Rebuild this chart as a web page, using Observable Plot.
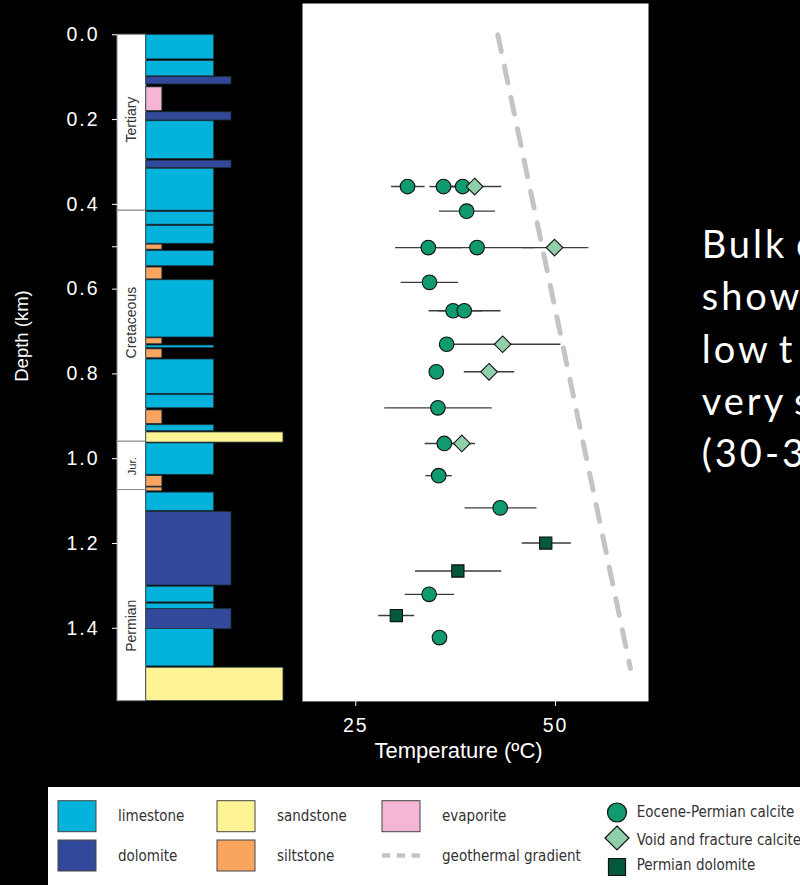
<!DOCTYPE html>
<html>
<head>
<meta charset="utf-8">
<script src="https://cdn.jsdelivr.net/npm/d3@7"></script>
<script src="https://cdn.jsdelivr.net/npm/@observablehq/plot@0.6"></script>
<style>
html, body { margin: 0; padding: 0; background: #000; overflow: hidden; }
#root { position: relative; width: 800px; height: 885px; overflow: hidden; background: #000; }
#left { position: absolute; left: 0; top: 0; }
#right { position: absolute; left: 300px; top: 0; }
#note { position: absolute; left: 640px; top: 180px; }
#legend { position: absolute; left: 48px; top: 787px; }
svg { overflow: visible; }
[aria-label$="tick label"] text { letter-spacing: 2px; }
</style>
</head>
<body>
<div id="root">
  <div id="left"></div>
  <div id="right"></div>
  <div id="note"></div>
  <div id="legend"></div>
</div>
<script>
// ---------------- DATA ----------------
const rockTypes  = ["limestone", "dolomite", "sandstone", "siltstone", "evaporite"];
const rockColors = ["#04b3dc", "#32489b", "#fff495", "#f9a45f", "#f5b6d5"];

// lithology layers (depth in km)
const layerTop = [0.000, 0.062, 0.100, 0.124, 0.183, 0.204, 0.297, 0.316, 0.418, 0.451,
                  0.495, 0.510, 0.549, 0.579, 0.716, 0.733, 0.742, 0.766, 0.850, 0.886,
                  0.921, 0.938, 0.964, 1.041, 1.068, 1.080, 1.126, 1.302, 1.342, 1.355,
                  1.402, 1.493];
const layerBottom = [0.058, 0.098, 0.117, 0.180, 0.202, 0.293, 0.314, 0.415, 0.448, 0.493,
                     0.507, 0.546, 0.577, 0.714, 0.730, 0.739, 0.763, 0.847, 0.881, 0.918,
                     0.935, 0.962, 1.038, 1.066, 1.077, 1.123, 1.299, 1.339, 1.355, 1.402,
                     1.490, 1.572];
const layerRock = ["limestone", "limestone", "dolomite", "evaporite", "dolomite", "limestone", "dolomite", "limestone", "limestone", "limestone",
                   "siltstone", "limestone", "siltstone", "limestone", "siltstone", "limestone", "siltstone", "limestone", "limestone", "siltstone",
                   "limestone", "sandstone", "limestone", "siltstone", "siltstone", "limestone", "dolomite", "limestone", "limestone", "dolomite",
                   "limestone", "sandstone"];

// geological periods
const eraNames = ["Tertiary", "Cretaceous", "Jur.", "Permian"];
const eraTop = [0.000, 0.415, 0.960, 1.074];
const eraBottom = [0.415, 0.960, 1.074, 1.572];
const eraLabelDepth = [0.200, 0.679, 1.018, 1.394];

// clumped-isotope temperatures
const sampleTypes = ["Eocene-Permian calcite", "Void and fracture calcite", "Permian dolomite"];
const sampleDepth = [0.358, 0.358, 0.358, 0.358, 0.416, 0.502, 0.502, 0.502, 0.584, 0.651,
                     0.651, 0.730, 0.730, 0.795, 0.795, 0.880, 0.964, 0.964, 1.040, 1.116,
                     1.199, 1.265, 1.320, 1.370, 1.422];
const sampleTemp  = [31.6, 36.1, 38.5, 40.0, 39.0, 34.2, 40.3, 50.0, 34.35, 37.3,
                     38.7, 36.5, 43.5, 35.2, 41.8, 35.4, 36.2, 38.4, 35.5, 43.2,
                     48.9, 37.9, 34.3, 30.2, 35.6];
const sampleLow   = [29.6, 34.4, 36.5, 37.0, 35.6, 30.1, 35.3, 46.0, 30.8, 34.3,
                     35.5, null, 36.5, null, 38.7, 28.75, 33.8, 35.5, 33.9, 38.8,
                     45.95, 32.6, 31.3, 28.0, null];
const sampleHigh  = [33.8, 37.8, 40.5, 43.4, 42.6, 38.4, 47.6, 54.3, 38.0, 41.0,
                     43.3, null, 50.8, null, 45.0, 42.2, 38.6, 40.1, 37.2, 47.8,
                     52.1, 43.4, 37.5, 32.5, null];
const sampleKind  = [0, 0, 0, 1, 0, 0, 0, 1, 0, 0,
                     0, 0, 1, 0, 1, 0, 0, 1, 0, 0,
                     2, 2, 0, 2, 0];

// geothermal gradient
const gradientDepth = [0.0, 1.495];
const gradientTemp  = [42.9, 59.5];

const depthTicks = [0.0, 0.2, 0.4, 0.5, 0.6, 0.8, 1.0, 1.2, 1.4];
const depthTickLabels = ["0.0", "0.2", "0.4", "", "0.6", "0.8", "1.0", "1.2", "1.4"];
const tempTicks = [25, 50];

const noteLines = ["Bulk c", "show", "low t", "very s", "(30-3"];

// ---------------- STYLE ----------------
const rockWidth = {limestone: 2.36, dolomite: 2.96, sandstone: 4.77, siltstone: 0.56, evaporite: 0.56};
const sampleFill = ["#0f9a70", "#8fcfa9", "#03583d"];
const sampleSymbol = ["circle", "diamond2", "square"];
const sampleR = [7.3, 7.5, 6.9];
const pxPerKm = 423.9, depth0Y = 34.3;
const axisFont = "'Liberation Sans', Arial, Helvetica, sans-serif";

// ---------------- TABLES ----------------
const layers = layerTop.map((t, i) => ({top: t, bottom: layerBottom[i], rock: layerRock[i]}));
const eras = eraNames.map((n, i) => ({name: n, top: eraTop[i], bottom: eraBottom[i], label: eraLabelDepth[i]}));
const samples = sampleDepth.map((d, i) => ({depth: d, temp: sampleTemp[i], low: sampleLow[i], high: sampleHigh[i], kind: sampleKind[i]}));
const gradient = gradientDepth.map((d, i) => ({depth: d, temp: gradientTemp[i]}));

// ---------------- LEFT: stratigraphic column ----------------
const leftH = 710, leftBottomY = depth0Y + pxPerKm * d3.max(layerBottom);
const left = Plot.plot({
  width: 300, height: leftH,
  marginLeft: 117, marginRight: 17, marginTop: depth0Y, marginBottom: leftH - leftBottomY,
  style: {background: "transparent", color: "#fff", fontFamily: axisFont},
  x: {domain: [-1, rockWidth.sandstone], axis: null},
  y: {domain: [0, d3.max(layerBottom)], reverse: true, axis: null},
  color: {domain: rockTypes, range: rockColors},
  marks: [
    Plot.rect(eras, {x1: -1, x2: 0, y1: "top", y2: "bottom", fill: "#fff", stroke: "#8a8a8a", strokeWidth: 1}),
    Plot.text(eras, {x: -0.5, y: "label", text: "name", rotate: -90, fill: "#333",
      fontSize: d => d.name === "Jur." ? 11.5 : 14}),
    Plot.rect(layers, {x1: 0, x2: d => rockWidth[d.rock], y1: "top", y2: "bottom", fill: "rock", stroke: "#1f3540", strokeWidth: 0.8}),
    Plot.axisY({ticks: depthTicks, tickFormat: d => depthTickLabels[depthTicks.indexOf(d)], tickSize: 5, tickPadding: 13,
      fontSize: 19.5, label: null}),
    Plot.text(["Depth (km)"], {frameAnchor: "left", textAnchor: "middle", rotate: -90, dx: -95, dy: -32, fontSize: 18.5, fill: "#fff"})
  ]
});
document.getElementById("left").append(left);

// ---------------- RIGHT: temperatures ----------------
const rightH = 780, panelTop = 3, panelBottom = 701;
const yTop = (panelTop - depth0Y) / pxPerKm, yBottom = (panelBottom - depth0Y) / pxPerKm;
const right = Plot.plot({
  width: 360, height: rightH,
  marginLeft: 2, marginRight: 12, marginTop: panelTop, marginBottom: rightH - panelBottom,
  style: {background: "transparent", color: "#fff", fontFamily: axisFont},
  x: {domain: [18.454, 61.76], axis: null},
  y: {domain: [yTop, yBottom], reverse: true, axis: null},
  marks: [
    Plot.frame({fill: "#fff", stroke: "none"}),
    Plot.ruleY([yBottom], {stroke: "#6a6a6a", strokeWidth: 1.2}),
    Plot.line(gradient, {x: "temp", y: "depth", stroke: "#c4c4c4", strokeWidth: 5, strokeDasharray: "17 15"}),
    Plot.ruleY(samples.filter(d => d.low != null), {y: "depth", x1: "low", x2: "high", stroke: "#3c3c3c", strokeWidth: 1.4}),
    ...[0, 1, 2].map(k => Plot.dot(samples.filter(d => d.kind === k), {
      x: "temp", y: "depth", symbol: sampleSymbol[k], r: sampleR[k], fill: sampleFill[k], stroke: "#111", strokeWidth: 1.1
    })),
    Plot.axisX({ticks: tempTicks, tickSize: 5, tickPadding: 11.7, fontSize: 19.5, dx: 1, label: null}),
    Plot.text(["Temperature (ºC)"], {frameAnchor: "bottom", dx: -17, dy: 41, lineAnchor: "top", fontSize: 22, fill: "#fff"})
  ]
});
document.getElementById("right").append(right);

// ---------------- NOTE (slide text, cut at window edge) ----------------
const note = d3.select("#note").append("svg").attr("width", 200).attr("height", 320);
note.selectAll("text").data(noteLines).join("text")
  .attr("x", 61.7).attr("y", (d, i) => 78.3 + i * 52.1)
  .attr("fill", "#fff").attr("font-family", "Lato, 'Open Sans', sans-serif").attr("font-size", 38)
  .attr("letter-spacing", 3).attr("word-spacing", -4)
  .text(d => d);

// ---------------- LEGEND ----------------
const lg = d3.select("#legend").append("svg").attr("width", 752).attr("height", 98);
lg.append("rect").attr("x", 0).attr("y", 0).attr("width", 752).attr("height", 98).attr("fill", "#fff");
const legendFont = "'DejaVu Sans Condensed', 'DejaVu Sans', sans-serif";
const colX = [10, 169, 334], rowY = [13.7, 53];
const rockItems = rockTypes.map((r, i) => ({label: r, color: rockColors[i], col: Math.floor(i / 2), row: i % 2}));
rockItems.forEach(it => {
  lg.append("rect").attr("x", colX[it.col]).attr("y", rowY[it.row]).attr("width", 38).attr("height", 31)
    .attr("fill", it.color).attr("stroke", "#444").attr("stroke-width", 1);
  lg.append("text").attr("x", colX[it.col] + 60).attr("y", rowY[it.row] + 20.5)
    .attr("font-family", legendFont).attr("font-stretch", "condensed").attr("font-size", 15).attr("fill", "#333").text(it.label);
});
// geothermal gradient entry
lg.append("line").attr("x1", colX[2]).attr("x2", colX[2] + 38).attr("y1", 68.5).attr("y2", 68.5)
  .attr("stroke", "#c4c4c4").attr("stroke-width", 4.3).attr("stroke-dasharray", "8.3 6.5");
lg.append("text").attr("x", colX[2] + 60).attr("y", rowY[1] + 20.5)
  .attr("font-family", legendFont).attr("font-stretch", "condensed").attr("font-size", 15).attr("fill", "#333").text("geothermal gradient");
// sample symbols
const symY = [25.5, 51, 80], symTextY = [30.3, 58, 83];
const symSize = [Math.PI * 9.5 * 9.5, Math.pow(12 / 0.62625, 2), 17 * 17];
const symType = [d3.symbolCircle, d3.symbolDiamond2, d3.symbolSquare];
sampleTypes.forEach((t, k) => {
  lg.append("path").attr("transform", `translate(569,${symY[k]})`)
    .attr("d", d3.symbol(symType[k], symSize[k])())
    .attr("fill", sampleFill[k]).attr("stroke", "#111").attr("stroke-width", 1.2);
  lg.append("text").attr("x", 588.7).attr("y", symTextY[k])
    .attr("font-family", legendFont).attr("font-stretch", "condensed").attr("font-size", 15).attr("fill", "#333").text(t);
});
</script>
</body>
</html>
